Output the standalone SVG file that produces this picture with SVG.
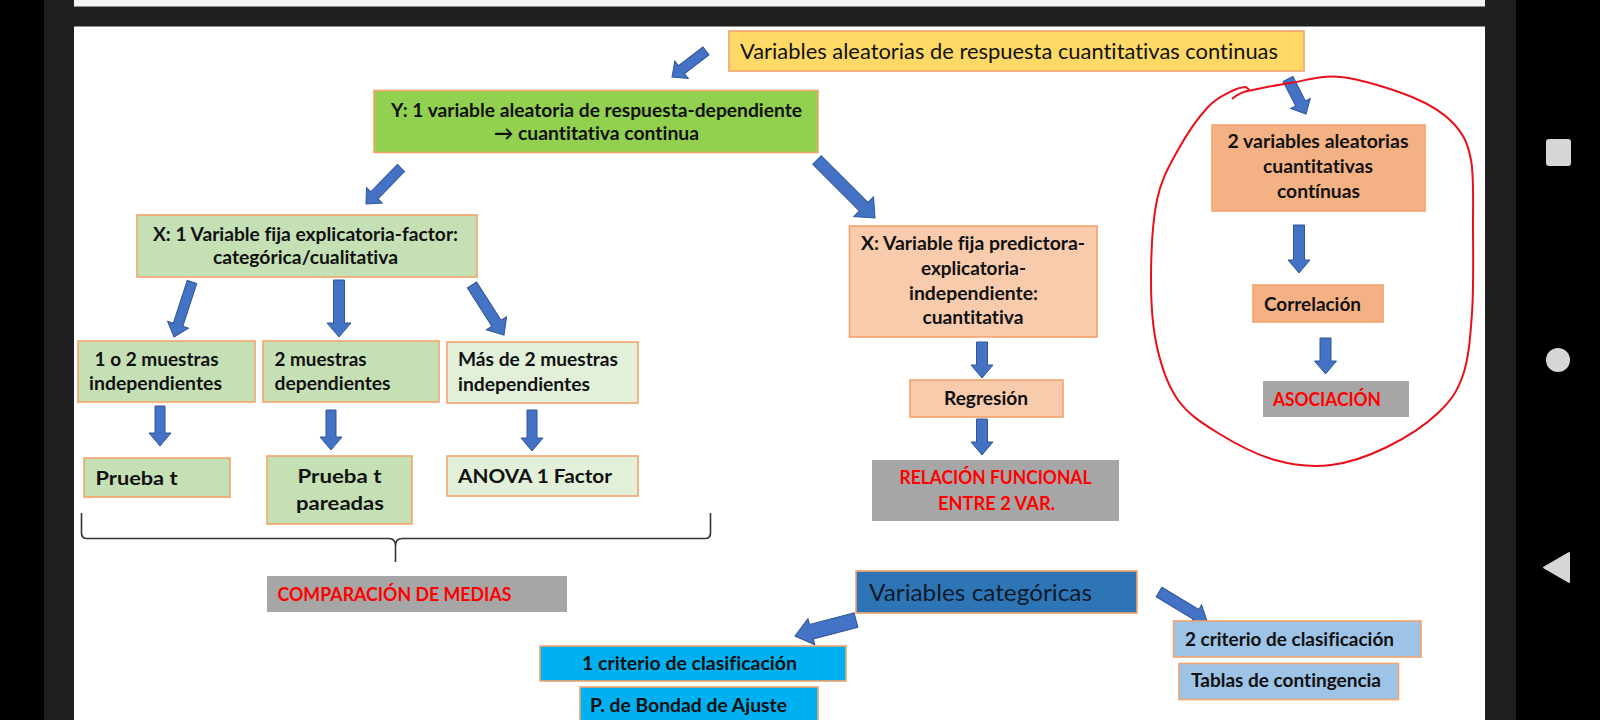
<svg xmlns="http://www.w3.org/2000/svg" width="1600" height="720" viewBox="0 0 1600 720">
<style>
text{font-family:Lato,"Liberation Sans",sans-serif;fill:#111;font-variant-ligatures:none;}
.b{font-weight:700;font-size:19.5px;}
.r{font-weight:400;}
.red{fill:#f00;font-weight:700;font-size:19.5px;}
.box{stroke:#f2a46c;stroke-width:1.6;}
.yel{fill:#ffd966;}
.grn{fill:#92d050;}
.lg{fill:#c5e0b4;}
.vlg{fill:#e2f0d9;}
.pch{fill:#f8cbad;}
.org{fill:#f4b183;}
.gry{fill:#a6a6a6;}
.blu{fill:#2e75b6;}
.lbl{fill:#9dc3e6;}
.cya{fill:#00b0f0;}
.arr{fill:#4472c4;stroke:#2f5597;stroke-width:1;stroke-linejoin:miter;}
</style>
<rect x="0" y="0" width="1600" height="720" fill="#000"/>
<rect x="44" y="0" width="1472" height="720" fill="#1f1f1f"/>
<rect x="74" y="0" width="1411" height="6.5" fill="#f4f4f4"/>
<rect x="74" y="26.5" width="1411" height="694" fill="#fff"/>
<rect x="1546" y="139" width="25" height="27" rx="3" fill="#d6d6d6"/>
<circle cx="1558" cy="360" r="12" fill="#d6d6d6"/>
<polygon points="1544,567.5 1569,553 1569,582" fill="#d6d6d6" stroke="#d6d6d6" stroke-width="2" stroke-linejoin="round"/>

<g id="connectors">
<polygon class="arr" transform="translate(706,51) rotate(142.6)" points="0,-5 30.8,-5 30.8,-11 42.8,0 30.8,11 30.8,5 0,5"/>
<polygon class="arr" transform="translate(401,168) rotate(134.2)" points="0,-5 38.2,-5 38.2,-11 50.2,0 38.2,11 38.2,5 0,5"/>
<polygon class="arr" transform="translate(817,160) rotate(45)" points="0,-6 66,-6 66,-14 82,0 66,14 66,6 0,6"/>
<polygon class="arr" transform="translate(1288,79) rotate(62.8)" points="0,-5.5 27.4,-5.5 27.4,-11 39.4,0 27.4,11 27.4,5.5 0,5.5"/>
<polygon class="arr" transform="translate(1299,225) rotate(90)" points="0,-5.5 35,-5.5 35,-11 48,0 35,11 35,5.5 0,5.5"/>
<polygon class="arr" transform="translate(1325.5,338) rotate(90)" points="0,-5.5 23,-5.5 23,-11 36,0 23,11 23,5.5 0,5.5"/>
<polygon class="arr" transform="translate(982,342) rotate(90)" points="0,-5.5 23,-5.5 23,-11 36,0 23,11 23,5.5 0,5.5"/>
<polygon class="arr" transform="translate(982,419) rotate(90)" points="0,-5.5 23,-5.5 23,-11 36,0 23,11 23,5.5 0,5.5"/>
<polygon class="arr" transform="translate(192,282) rotate(108.1)" points="0,-5 44.9,-5 44.9,-11 57.9,0 44.9,11 44.9,5 0,5"/>
<polygon class="arr" transform="translate(339,280) rotate(90)" points="0,-5.5 43,-5.5 43,-12 57,0 43,12 43,5.5 0,5.5"/>
<polygon class="arr" transform="translate(472,285) rotate(57.4)" points="0,-5.5 45.4,-5.5 45.4,-12 59.4,0 45.4,12 45.4,5.5 0,5.5"/>
<polygon class="arr" transform="translate(160,406) rotate(90)" points="0,-5 27,-5 27,-11 40,0 27,11 27,5 0,5"/>
<polygon class="arr" transform="translate(331,410) rotate(90)" points="0,-5 27,-5 27,-11 40,0 27,11 27,5 0,5"/>
<polygon class="arr" transform="translate(532,410) rotate(90)" points="0,-5 28,-5 28,-11 41,0 28,11 28,5 0,5"/>
<polygon class="arr" transform="translate(856,620) rotate(165.3)" points="0,-7.5 46.1,-7.5 46.1,-13.5 63.1,0 46.1,13.5 46.1,7.5 0,7.5"/>
<polygon class="arr" transform="translate(1159,592) rotate(31.1)" points="0,-5.5 43.1,-5.5 43.1,-11 56.1,0 43.1,11 43.1,5.5 0,5.5"/>
<path d="M81.5,513 L81.5,533 Q81.5,538.5 87,538.5 L389,538.5 Q395.5,538.5 395.5,546 L395.5,562 M710.5,513 L710.5,533 Q710.5,538.5 705,538.5 L402,538.5 Q395.5,538.5 395.5,546" fill="none" stroke="#333" stroke-width="1.6"/>
<path d="M1247,91 C1254.2,89.7 1274.3,85.3 1290,83 C1305.7,80.7 1320.7,74.7 1341,77 C1361.3,79.3 1393.3,89.3 1412,97 C1430.7,104.7 1443.2,112.5 1453,123 C1462.8,133.5 1467.7,142.2 1471,160 C1474.3,177.8 1472.8,204.5 1473,230 C1473.2,255.5 1473.7,288.8 1472,313 C1470.3,337.2 1468.7,358.3 1463,375 C1457.3,391.7 1450.7,401 1438,413 C1425.3,425 1404.8,438.3 1387,447 C1369.2,455.7 1349.7,462.8 1331,465 C1312.3,467.2 1293.8,465.3 1275,460 C1256.2,454.7 1234.2,443 1218,433 C1201.8,423 1188.2,414.3 1178,400 C1167.8,385.7 1161.5,367 1157,347 C1152.5,327 1151,304.5 1151,280 C1151,255.5 1152.5,221.7 1157,200 C1161.5,178.3 1169.5,165.5 1178,150 C1186.5,134.5 1198.7,117 1208,107 C1217.3,97 1227.7,93.3 1234,90 C1240.3,86.7 1244,87.5 1246,87 L1250,90.5 Q1240,92 1232,99" fill="none" stroke="#e8101a" stroke-width="2"/>
</g>

<g id="n-top"><rect class="box yel" x="729" y="31" width="575" height="40"/>
<text class="r" x="740" y="59" font-size="22" textLength="538" lengthAdjust="spacingAndGlyphs">Variables aleatorias de respuesta cuantitativas continuas</text></g>

<g id="n-y"><rect class="box grn" x="374" y="90.5" width="444" height="62"/>
<text class="b" x="391" y="117" textLength="411" lengthAdjust="spacingAndGlyphs">Y: 1 variable aleatoria de respuesta-dependiente</text>
<text class="b" x="494" y="140" textLength="205" lengthAdjust="spacingAndGlyphs">→ cuantitativa continua</text></g>

<g id="n-xfactor"><rect class="box lg" x="137" y="215" width="340" height="62"/>
<text class="b" x="153" y="241" textLength="305" lengthAdjust="spacingAndGlyphs">X: 1 Variable fija explicatoria-factor:</text>
<text class="b" x="213" y="264" textLength="185" lengthAdjust="spacingAndGlyphs">categórica/cualitativa</text></g>

<g id="n-xpred"><rect class="box pch" x="849.5" y="226" width="247.5" height="111"/>
<text class="b" x="861" y="250" textLength="224" lengthAdjust="spacingAndGlyphs">X: Variable fija predictora-</text>
<text class="b" x="921" y="275" textLength="105" lengthAdjust="spacingAndGlyphs">explicatoria-</text>
<text class="b" x="909" y="300" textLength="129" lengthAdjust="spacingAndGlyphs">independiente:</text>
<text class="b" x="922.5" y="324" textLength="101" lengthAdjust="spacingAndGlyphs">cuantitativa</text></g>

<g id="n-2var"><rect class="box org" x="1212" y="125" width="213" height="86"/>
<text class="b" x="1227.5" y="148" textLength="181" lengthAdjust="spacingAndGlyphs">2 variables aleatorias</text>
<text class="b" x="1263" y="173" textLength="110" lengthAdjust="spacingAndGlyphs">cuantitativas</text>
<text class="b" x="1277" y="198" textLength="83" lengthAdjust="spacingAndGlyphs">contínuas</text></g>

<g id="n-correl"><rect class="box org" x="1253" y="285" width="130" height="37"/>
<text class="b" x="1264" y="310.5" textLength="97" lengthAdjust="spacingAndGlyphs">Correlación</text></g>

<g id="n-asoc"><rect class="gry" x="1263" y="381" width="146" height="36"/>
<text class="red" x="1273" y="406" textLength="108" lengthAdjust="spacingAndGlyphs">ASOCIACIÓN</text></g>

<g id="n-regr"><rect class="box pch" x="910" y="380" width="153" height="37"/>
<text class="b" x="944" y="405" textLength="84" lengthAdjust="spacingAndGlyphs">Regresión</text></g>

<g id="n-relacion"><rect class="gry" x="872" y="460" width="247" height="61"/>
<text class="red" x="899.5" y="484" textLength="192" lengthAdjust="spacingAndGlyphs">RELACIÓN FUNCIONAL</text>
<text class="red" x="938" y="510" textLength="117" lengthAdjust="spacingAndGlyphs">ENTRE 2 VAR.</text></g>

<g id="n-12ind"><rect class="box lg" x="78" y="341" width="177" height="61"/>
<text class="b" x="94.5" y="366" textLength="124" lengthAdjust="spacingAndGlyphs">1 o 2 muestras</text>
<text class="b" x="89" y="390" textLength="133" lengthAdjust="spacingAndGlyphs">independientes</text></g>

<g id="n-2dep"><rect class="box lg" x="263" y="341" width="176" height="61"/>
<text class="b" x="274.5" y="366" textLength="92" lengthAdjust="spacingAndGlyphs">2 muestras</text>
<text class="b" x="274.5" y="390" textLength="116" lengthAdjust="spacingAndGlyphs">dependientes</text></g>

<g id="n-mas2"><rect class="box vlg" x="447" y="342" width="191" height="61"/>
<text class="b" x="458" y="366" textLength="160" lengthAdjust="spacingAndGlyphs">Más de 2 muestras</text>
<text class="b" x="458" y="391" textLength="132" lengthAdjust="spacingAndGlyphs">independientes</text></g>

<g id="n-pruebat"><rect class="box lg" x="84" y="458" width="146" height="39"/>
<text class="b" x="95.5" y="485" font-size="21" textLength="82" lengthAdjust="spacingAndGlyphs">Prueba t</text></g>

<g id="n-pareadas"><rect class="box lg" x="267" y="456" width="145" height="68"/>
<text class="b" x="297.5" y="483" font-size="21" textLength="84" lengthAdjust="spacingAndGlyphs">Prueba t</text>
<text class="b" x="296" y="510" font-size="21" textLength="88" lengthAdjust="spacingAndGlyphs">pareadas</text></g>

<g id="n-anova"><rect class="box vlg" x="447" y="456" width="191" height="40"/>
<text class="b" x="458" y="483" font-size="21" textLength="154" lengthAdjust="spacingAndGlyphs">ANOVA 1 Factor</text></g>

<g id="n-comp"><rect class="gry" x="267" y="576" width="300" height="36"/>
<text class="red" x="277.5" y="600.5" textLength="234" lengthAdjust="spacingAndGlyphs">COMPARACIÓN DE MEDIAS</text></g>

<g id="n-cat"><rect class="box blu" x="856" y="571" width="281" height="42"/>
<text class="r" x="869" y="601" font-size="23.5" style="fill:#0d1a2b" textLength="223" lengthAdjust="spacingAndGlyphs">Variables categóricas</text></g>

<g id="n-2crit"><rect class="box lbl" x="1173.5" y="621" width="247.5" height="36"/>
<text class="b" x="1185" y="646" textLength="209" lengthAdjust="spacingAndGlyphs">2 criterio de clasificación</text></g>

<g id="n-tablas"><rect class="box lbl" x="1179" y="663.5" width="219.5" height="36"/>
<text class="b" x="1191" y="687" textLength="190" lengthAdjust="spacingAndGlyphs">Tablas de contingencia</text></g>

<g id="n-1crit"><rect class="box cya" x="540" y="646" width="306" height="35"/>
<text class="b" x="582" y="670" textLength="215" lengthAdjust="spacingAndGlyphs">1 criterio de clasificación</text></g>

<g id="n-bondad"><rect class="box cya" x="580" y="687" width="238" height="40"/>
<text class="b" x="590" y="711.5" textLength="197" lengthAdjust="spacingAndGlyphs">P. de Bondad de Ajuste</text></g>
</svg>
